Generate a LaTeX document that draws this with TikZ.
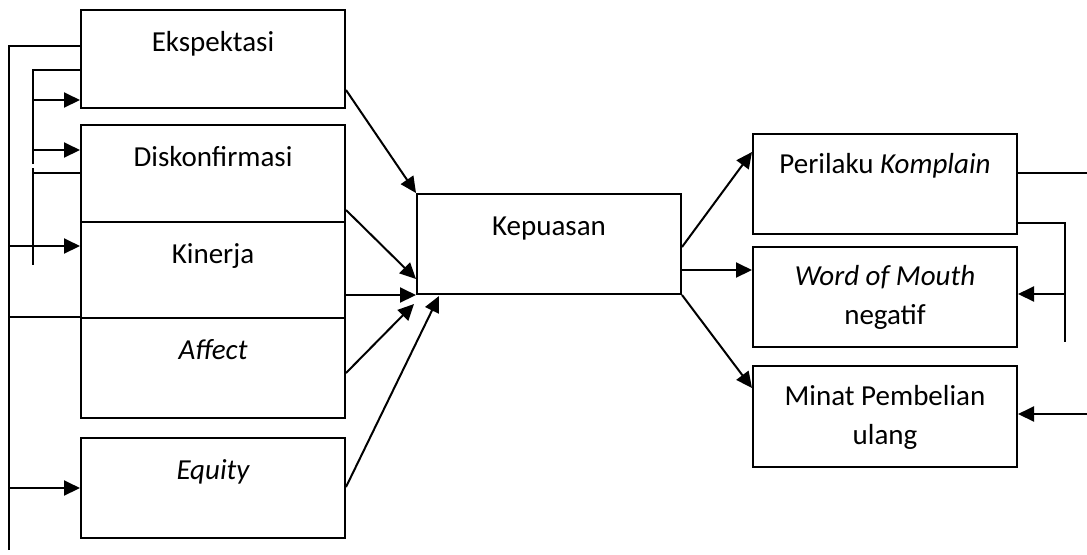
\documentclass[tikz,border=0pt]{standalone}
\usepackage{fontspec}
\setmainfont{Carlito}
\usepackage{tikz}
\usetikzlibrary{positioning,calc,arrows.meta}

\begin{document}
\begin{tikzpicture}[
    x=0.5pt, y=-0.5pt,
    line width=1pt,
    box/.style={draw, rectangle, inner sep=0pt, minimum width=132pt, minimum height=50pt},
    txt/.style={anchor=base, inner sep=0pt, align=center, font=\fontsize{14.5}{19.5}\selectfont},
    arr/.style={-{Triangle[length=8pt,width=7.5pt]}}
]
    \useasboundingbox (0,0) rectangle (1087,554);

    \node[box, minimum height=49pt] (eksp) at (213,59) {};
    \node[box, minimum height=48.5pt] (disk) at (213,173.5) {};
    \node[box, minimum height=48pt] (kin) at (213,270) {};
    \node[box] (aff) at (213,368) {};
    \node[box] (eq) at (213,488) {};
    \node[box] (kep) at (549,244) {};
    \node[box] (kom) at (885,184) {};
    \node[box] (wom) at (885,297) {};
    \node[box, minimum height=50.5pt] (minat) at (885,416.5) {};

    \node[txt, yshift=-21pt] (eksp-t) at (eksp.north) {Ekspektasi};
    \node[txt, yshift=-21pt] (disk-t) at (disk.north) {Diskonfirmasi};
    \node[txt, yshift=-21pt] (kin-t) at (kin.north) {Kinerja};
    \node[txt, yshift=-21pt] (aff-t) at (aff.north) {\itshape Affect};
    \node[txt, yshift=-21pt] (eq-t) at (eq.north) {\itshape Equity};
    \node[txt, yshift=-21pt] (kep-t) at (kep.north) {Kepuasan};
    \node[txt, yshift=-20pt] (kom-t) at (kom.north) {Perilaku \textit{Komplain}};
    \node[txt, yshift=-39pt] (wom-t) at (wom.north) {\textit{Word of Mouth}\\negatif};
    \node[txt, yshift=-39.5pt] (minat-t) at (minat.north) {Minat Pembelian\\ulang};

    \coordinate (outer-top) at (9,46);
    \coordinate (outer-bot) at (9,550);
    \coordinate (inner-top) at (33,70);
    \coordinate (inner-gap) at (33,164);
    \coordinate (inner-bot) at (33,265);
    \coordinate (r-out) at (1087,173);
    \coordinate (r-bus) at (1065,342);
    \coordinate (r-in) at (1087,414);

    \draw (outer-bot) |- (eksp.west |- outer-top);
    \draw (inner-gap) |- (eksp.west |- inner-top);
    \draw ($(inner-gap)+(0,4)$) -- (inner-bot);
    \draw[arr] (inner-top |- 0,100) -- (eksp.west |- 0,100);
    \draw[arr] (inner-top |- 0,150) -- (disk.west |- 0,150);
    \draw (inner-top |- 0,173) -- (disk.west |- 0,173);
    \draw[arr] (outer-top |- 0,246) -- (kin.west |- 0,246);
    \draw (outer-top |- aff.north) -- (aff.north west);
    \draw[arr] (outer-top |- eq.west) -- (eq.west);

    \draw[arr] (eksp.east |- 0,90) -- (kep.north west);
    \draw[arr] (disk.east |- 0,210) -- ($(kep.south west)+(0,-16)$);
    \draw[arr] (kin.east |- kep.south) -- (kep.south west);
    \draw[arr] (aff.east |- 0,373) -- ($(kep.south west)+(-2,9)$);
    \draw[arr] (eq.east |- 0,487) -- ($(kep.south west)+(23,1)$);

    \draw[arr] (kep.east |- 0,247) -- (kom.west |- 0,152);
    \draw[arr] (kep.east |- 0,270) -- (wom.west |- 0,270);
    \draw[arr] (kep.south east) -- (minat.west |- 0,388);

    \draw (kom.east |- r-out) -- (r-out);
    \draw (kom.east |- 0,223) -| (r-bus);
    \draw[arr] (r-bus |- 0,294) -- (wom.east |- 0,294);
    \draw[arr] (r-in) -- (minat.east |- r-in);
\end{tikzpicture}
\end{document}
